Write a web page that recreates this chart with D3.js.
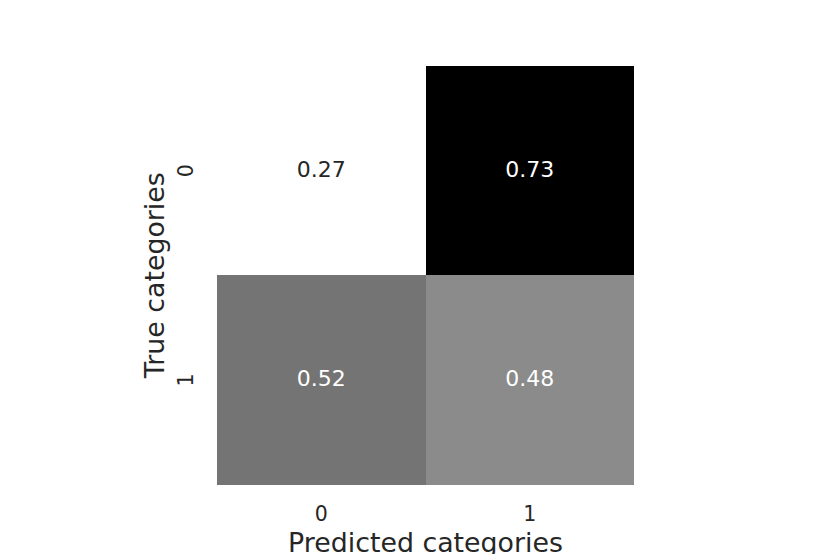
<!DOCTYPE html>
<html>
<head>
<meta charset="utf-8">
<script src="https://cdn.jsdelivr.net/npm/d3@7"></script>
<style>
  html, body { margin: 0; padding: 0; background: #fff; }
  svg { display: block; font-family: "DejaVu Sans", sans-serif; }
</style>
</head>
<body>
<svg id="chart" width="830" height="554"></svg>
<script>
const predictedCategories = ["0", "1"];
const trueCategories = ["0", "1"];
const matrixValues = [
  [0.27, 0.73],
  [0.52, 0.48]
];
const xTitle = "Predicted categories";
const yTitle = "True categories";

const cells = [];
trueCategories.forEach((t, i) => {
  predictedCategories.forEach((p, j) => {
    cells.push({ t, p, v: matrixValues[i][j] });
  });
});

const svg = d3.select("#chart");
const plotLeft = 217, plotRight = 634, plotTop = 66, plotBottom = 484.5;
const textColor = "#262626";

const x = d3.scaleBand().domain(predictedCategories).range([plotLeft, plotRight]).padding(0);
const y = d3.scaleBand().domain(trueCategories).range([plotTop, plotBottom]).padding(0);

const all = cells.map(d => d.v);
const vmin = d3.min(all), vmax = d3.max(all);
const color = d3.scaleLinear().domain([vmin, vmax]).range(["#ffffff", "#000000"]).interpolate(d3.interpolateRgb);
const lum = d3.scaleLinear().domain([vmin, vmax]).range([1, 0]);

svg.append("g").attr("shape-rendering", "crispEdges")
  .selectAll("rect").data(cells).join("rect")
  .attr("x", d => x(d.p))
  .attr("y", d => y(d.t))
  .attr("width", x.bandwidth())
  .attr("height", y.bandwidth())
  .attr("fill", d => color(d.v));

svg.append("g").selectAll("text").data(cells).join("text")
  .attr("x", d => x(d.p) + x.bandwidth() / 2)
  .attr("y", d => y(d.t) + y.bandwidth() / 2 + 6.5)
  .attr("text-anchor", "middle")
  .style("font-size", "22px")
  .attr("fill", d => lum(d.v) > 0.6 ? textColor : "#ffffff")
  .text(d => d3.format(".2f")(d.v));

// X axis
const xAxis = d3.axisBottom(x).tickSize(0).tickPadding(0);
const gx = svg.append("g").attr("transform", `translate(0,${plotBottom})`).call(xAxis)
  .attr("font-size", null).attr("font-family", null);
gx.select(".domain").remove();
gx.selectAll("text").attr("fill", textColor)
  .style("font-size", "20.5px").style("font-family", "DejaVu Sans")
  .attr("dy", null).attr("y", 36.5);

// Y axis
const yAxis = d3.axisLeft(y).tickSize(0).tickPadding(0);
const gy = svg.append("g").attr("transform", `translate(${plotLeft},0)`).call(yAxis)
  .attr("font-size", null).attr("font-family", null);
gy.select(".domain").remove();
gy.selectAll("text")
  .attr("fill", textColor)
  .style("font-size", "20.5px").style("font-family", "DejaVu Sans")
  .attr("x", null).attr("dy", null)
  .attr("text-anchor", "middle")
  .attr("transform", "translate(-24,0) rotate(-90)");

svg.append("text")
  .attr("x", (plotLeft + plotRight) / 2)
  .attr("y", 552)
  .attr("text-anchor", "middle")
  .style("font-size", "26.8px")
  .attr("fill", textColor)
  .text(xTitle);

svg.append("text")
  .attr("transform", `translate(163.5,${(plotTop + plotBottom) / 2}) rotate(-90)`)
  .attr("text-anchor", "middle")
  .style("font-size", "26.8px")
  .attr("fill", textColor)
  .text(yTitle);
</script>
</body>
</html>
